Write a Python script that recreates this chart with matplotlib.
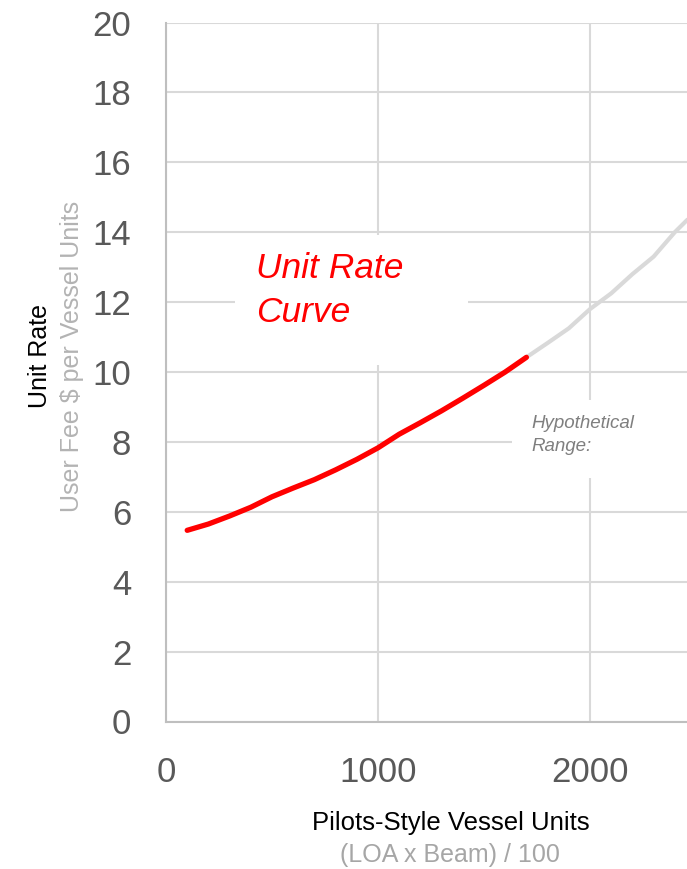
import matplotlib
matplotlib.use("Agg")
import matplotlib.pyplot as plt
from matplotlib.patches import Rectangle

plt.rcParams["font.family"] = ["Liberation Sans", "DejaVu Sans"]

# unit rate curve (actual range) and its hypothetical extension
units_actual = [100, 200, 300, 400, 500, 600, 700, 800, 900, 1000,
                1100, 1200, 1300, 1400, 1500, 1600, 1700]
rate_actual = [5.47, 5.65, 5.88, 6.13, 6.43, 6.68, 6.92, 7.20, 7.50, 7.83,
               8.22, 8.55, 8.89, 9.25, 9.62, 10.00, 10.42]
units_hypo = [1700, 1800, 1900, 2000, 2100, 2200, 2300, 2400, 2500]
rate_hypo = [10.42, 10.83, 11.25, 11.80, 12.25, 12.80, 13.30, 14.00, 14.60]

x_ticks = [0, 1000, 2000]
y_ticks = list(range(0, 21, 2))

GRID = "#d9d9d9"
TICK = "#595959"

fig = plt.figure(figsize=(6.87, 8.69), dpi=100)
W, H = 687, 869
ax = fig.add_axes([166 / W, 147.5 / H, 1 - 166 / W, (721.5 - 22.5) / H])

ax.plot(units_hypo, rate_hypo, color=GRID, lw=3.0, solid_capstyle="butt",
        zorder=3)
ax.plot(units_actual, rate_actual, color="#ff0000", lw=3.8,
        solid_capstyle="round", solid_joinstyle="round", zorder=4)

ax.set_xlim(0, (687 - 166) / 212 * 1000)
ax.set_ylim(0, 20)
ax.set_xticks(x_ticks)
ax.set_yticks(y_ticks)
ax.grid(True, color=GRID, lw=1.5, zorder=0)
ax.set_axisbelow(True)
ax.tick_params(length=0, labelsize=25, labelcolor=TICK)
ax.tick_params(axis="y", pad=25)
ax.tick_params(axis="x", pad=25)
for s in ["top", "right"]:
    ax.spines[s].set_visible(False)
for s in ["left", "bottom"]:
    ax.spines[s].set_color("#bfbfbf")
    ax.spines[s].set_linewidth(1.5)

# white text boxes that hide the gridlines behind the labels
ax.add_patch(Rectangle((325, 10.2), 1425 - 325, 13.92 - 10.2,
                       facecolor="white", edgecolor="none", zorder=2))
ax.add_patch(Rectangle((1632, 6.97), 1000, 9.19 - 6.97,
                       facecolor="white", edgecolor="none", zorder=2))

ax.text(256 / W, 1 - 268 / H, "Unit Rate", transform=fig.transFigure,
        color="#ff0000", fontsize=25.5, style="italic", va="center", ha="left",
        zorder=5)
ax.text(256 / W, 1 - 313 / H, "Curve", transform=fig.transFigure,
        color="#ff0000", fontsize=25.5, style="italic", va="center", ha="left",
        zorder=5)
ax.text(531 / W, 1 - 423 / H, "Hypothetical", transform=fig.transFigure,
        color="#7f7f7f", fontsize=13.5, style="italic", va="center", ha="left",
        zorder=5)
ax.text(531 / W, 1 - 446 / H, "Range:", transform=fig.transFigure,
        color="#7f7f7f", fontsize=13.5, style="italic", va="center", ha="left",
        zorder=5)

# axis titles
fig.text(40 / W, 1 - 356 / H, "Unit Rate", rotation=90, color="black",
         fontsize=18, ha="center", va="center")
fig.text(72 / W, 1 - 356 / H, "User Fee $ per Vessel Units", rotation=90,
         color="#b3b3b3", fontsize=18, ha="center", va="center")
fig.text(451 / W, 1 - 823 / H, "Pilots-Style Vessel Units", color="black",
         fontsize=18.5, ha="center", va="center")
fig.text(450 / W, 1 - 855 / H, "(LOA x Beam) / 100", color="#a6a6a6",
         fontsize=18, ha="center", va="center")

fig.savefig("out.png", dpi=100)
